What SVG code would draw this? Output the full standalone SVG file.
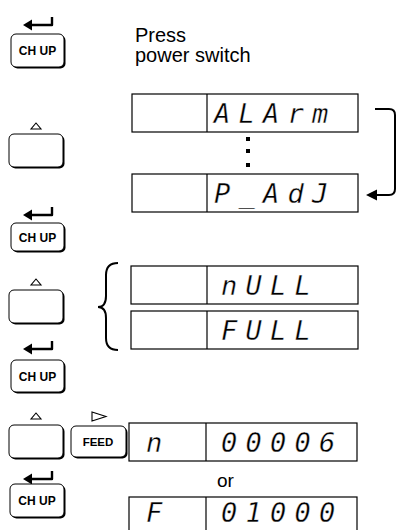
<svg xmlns="http://www.w3.org/2000/svg" width="399" height="530" viewBox="0 0 399 530">
<style>
.kshadow{fill:#000;stroke:none}
.kface{fill:#fff;stroke:#000;stroke-width:1}
.klabel{font-family:"Liberation Sans",Arial,sans-serif;font-weight:bold;font-size:12px;text-anchor:middle;fill:#000}
.disp{fill:#fff;stroke:#000;stroke-width:1.2}
.seg{font-family:"DejaVu Sans Mono",monospace;font-style:italic;font-size:27px;letter-spacing:8.25px;fill:#000;stroke:#fff;stroke-width:0.35}
.plain{font-family:"Liberation Sans",Arial,sans-serif;font-size:20px;fill:#000}
.enter{fill:none;stroke:#000;stroke-width:2.4;stroke-linejoin:round}
.tri{fill:#fff;stroke:#000;stroke-width:1.1}
.conn{fill:none;stroke:#000;stroke-width:2}
</style>
<defs>
<g id="enterArrow">
<path class="enter" d="M30,25 H52 V17"/>
<path d="M23,25 L32,19.5 L32,30.5 Z" fill="#000"/>
</g>
</defs>
<rect width="399" height="530" fill="#fff"/>

<g id="key-chup-1">
<use href="#enterArrow"/>
<rect class="kshadow" x="12.5" y="35.5" width="53" height="33" rx="5"/>
<rect class="kface" x="11" y="34" width="53" height="33" rx="5"/>
<text class="klabel" x="37.5" y="55">CH UP</text>
</g>
<g id="text-press">
<text class="plain" x="135" y="42">Press</text>
<text class="plain" x="135" y="62">power switch</text>
</g>

<g id="key-up-1">
<path class="tri" d="M36,123 L41,129 L31,129 Z"/>
<rect class="kshadow" x="10.5" y="135.5" width="54" height="33" rx="5"/>
<rect class="kface" x="9" y="134" width="54" height="33" rx="5"/>
</g>

<g id="disp-alarm">
<rect class="disp" x="132" y="94" width="226" height="38"/>
<line x1="207" y1="94" x2="207" y2="132" stroke="#000" stroke-width="1.2"/>
<text class="seg" x="214" y="123">ALArm</text>
</g>
<g id="dots">
<rect x="246" y="137" width="4" height="4"/>
<rect x="246" y="149" width="4" height="4"/>
<rect x="246" y="163" width="4" height="4"/>
</g>
<g id="disp-padj">
<rect class="disp" x="132" y="174" width="226" height="38"/>
<line x1="207" y1="174" x2="207" y2="212" stroke="#000" stroke-width="1.2"/>
<text class="seg" x="214" y="203">P_AdJ</text>
</g>

<g id="key-chup-2">
<use href="#enterArrow" y="190"/>
<rect class="kshadow" x="12.5" y="224.5" width="53" height="28" rx="5"/>
<rect class="kface" x="11" y="223" width="53" height="28" rx="5"/>
<text class="klabel" x="37.5" y="241.5">CH UP</text>
</g>

<g id="key-up-2">
<path class="tri" d="M36,279 L41,285 L31,285 Z"/>
<rect class="kshadow" x="10.5" y="291.5" width="54" height="33" rx="5"/>
<rect class="kface" x="9" y="290" width="54" height="33" rx="5"/>
</g>

<g id="disp-null">
<rect class="disp" x="131" y="266" width="227" height="38"/>
<line x1="207" y1="266" x2="207" y2="304" stroke="#000" stroke-width="1.2"/>
<text class="seg" x="221" y="295">nULL</text>
</g>
<g id="disp-full">
<rect class="disp" x="131" y="311" width="227" height="38"/>
<line x1="207" y1="311" x2="207" y2="349" stroke="#000" stroke-width="1.2"/>
<text class="seg" x="221" y="340">FULL</text>
</g>

<g id="key-chup-3">
<use href="#enterArrow" y="324"/>
<rect class="kshadow" x="12.5" y="361.5" width="53" height="32" rx="5"/>
<rect class="kface" x="11" y="360" width="53" height="32" rx="5"/>
<text class="klabel" x="37.5" y="380.5">CH UP</text>
</g>

<g id="key-up-3">
<path class="tri" d="M36,413 L41,419 L31,419 Z"/>
<rect class="kshadow" x="10.5" y="426.5" width="54" height="33" rx="5"/>
<rect class="kface" x="9" y="425" width="54" height="33" rx="5"/>
</g>
<g id="key-feed">
<path class="tri" d="M92,412 L106,416.5 L92,421 Z"/>
<rect class="kshadow" x="72.5" y="427.5" width="55" height="31" rx="5"/>
<rect class="kface" x="71" y="426" width="55" height="31" rx="5"/>
<text class="klabel" x="98" y="446" style="font-size:11.5px">FEED</text>
</g>

<g id="disp-count">
<rect class="disp" x="129" y="423" width="228" height="38"/>
<line x1="206" y1="423" x2="206" y2="461" stroke="#000" stroke-width="1.2"/>
<text class="seg" x="146" y="452">n</text>
<text class="seg" x="221" y="452">00006</text>
</g>
<g id="text-or">
<text class="plain" x="217" y="487" style="font-size:19px">or</text>
</g>

<g id="key-chup-4">
<use href="#enterArrow" y="454"/>
<rect class="kshadow" x="11.5" y="485.5" width="54" height="33" rx="5"/>
<rect class="kface" x="10" y="484" width="54" height="33" rx="5"/>
<text class="klabel" x="37" y="505">CH UP</text>
</g>

<g id="disp-full-count">
<rect class="disp" x="129" y="497" width="228" height="40"/>
<line x1="206" y1="497" x2="206" y2="537" stroke="#000" stroke-width="1.2"/>
<text class="seg" x="146" y="522">F</text>
<text class="seg" x="221" y="522">01000</text>
</g>

<g id="connectors">
<path class="conn" d="M375,109 H389 Q395,109 395,115 V189 Q395,195 389,195 H375"/>
<path d="M366,195 L377,189.5 L377,200.5 Z" fill="#000"/>
<path class="conn" d="M118,263 Q106,263 106,275 V296 Q106,307 98,307 Q106,307 106,318 V338 Q106,350 118,350"/>
</g>
</svg>
